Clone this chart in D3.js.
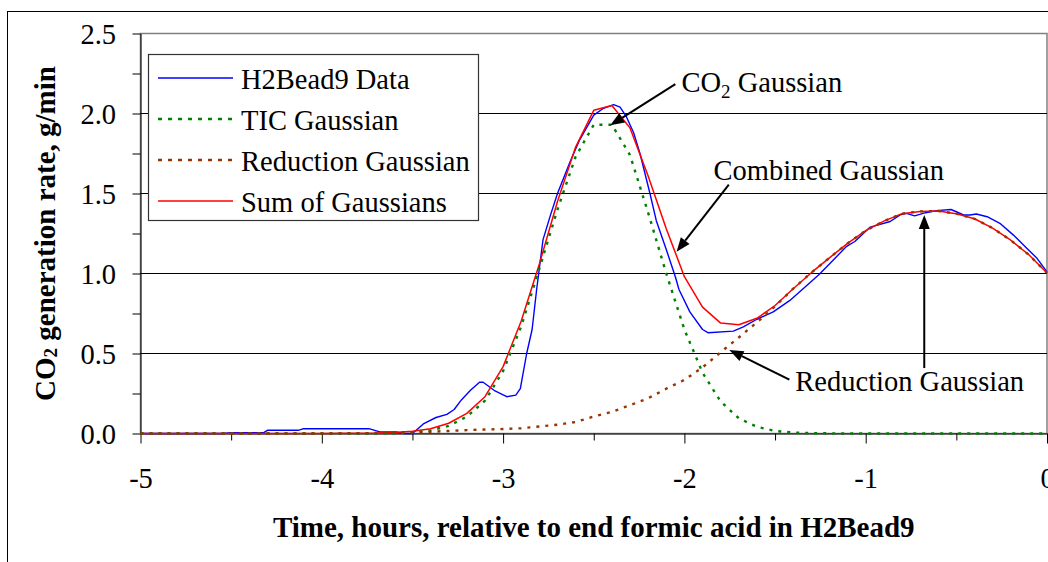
<!DOCTYPE html>
<html><head><meta charset="utf-8">
<script src="https://cdn.jsdelivr.net/npm/d3@7"></script>
<style>body{margin:0;background:#fff}svg{display:block}</style>
</head><body>
<svg id="chart" width="1048" height="562"></svg>
<script>
// ---------- DATA ----------
const gaussTime = [-5.0,-4.9,-4.8,-4.7,-4.6,-4.5,-4.4,-4.3,-4.2,-4.1,-4.0,-3.9,-3.8,-3.7,-3.6,-3.5,-3.4,-3.3,-3.2,-3.1,-3.0,-2.9,-2.8,-2.7,-2.6,-2.5,-2.4,-2.3,-2.2,-2.1,-2.0,-1.9,-1.8,-1.7,-1.6,-1.5,-1.4,-1.3,-1.2,-1.1,-1.0,-0.9,-0.8,-0.7,-0.6,-0.5,-0.4,-0.3,-0.2,-0.1,0.0];
const ticGaussian = [0,0,0,0,0,0,0,0,0,0,0,0,0,0,0.002,0.007,0.019,0.048,0.105,0.205,0.39,0.67,1.03,1.40,1.73,1.93,1.93,1.74,1.38,1.00,0.65,0.38,0.20,0.095,0.042,0.016,0.006,0.002,0.001,0,0,0,0,0,0,0,0,0,0,0,0];
const reductionGaussian = [0,0,0,0,0,0,0,0,0,0,0,0.001,0.002,0.003,0.005,0.007,0.011,0.016,0.021,0.025,0.028,0.033,0.044,0.055,0.072,0.106,0.135,0.177,0.22,0.28,0.335,0.413,0.508,0.60,0.695,0.795,0.905,1.005,1.098,1.188,1.268,1.327,1.374,1.388,1.391,1.374,1.342,1.284,1.208,1.117,1.003];
const sumGaussians = [0,0,0,0,0,0,0,0,0,0,0,0.001,0.002,0.003,0.007,0.014,0.03,0.064,0.126,0.23,0.418,0.703,1.06,1.45,1.79,2.02,2.05,1.91,1.61,1.28,0.98,0.79,0.69,0.68,0.72,0.80,0.905,1.005,1.098,1.188,1.268,1.327,1.374,1.388,1.391,1.374,1.342,1.284,1.208,1.117,1.003];
const dataTime = [-5.0,-4.55,-4.5,-4.32,-4.3,-4.13,-4.1,-3.74,-3.68,-3.59,-3.55,-3.5,-3.44,-3.37,-3.31,-3.27,-3.23,-3.18,-3.13,-3.11,-3.05,-2.98,-2.93,-2.905,-2.87,-2.84,-2.815,-2.78,-2.74,-2.70,-2.63,-2.58,-2.50,-2.45,-2.39,-2.355,-2.32,-2.28,-2.245,-2.19,-2.155,-2.10,-2.05,-2.03,-1.97,-1.90,-1.87,-1.73,-1.675,-1.60,-1.51,-1.42,-1.37,-1.26,-1.20,-1.105,-1.06,-0.975,-0.865,-0.81,-0.775,-0.73,-0.67,-0.61,-0.53,-0.50,-0.46,-0.425,-0.39,-0.33,-0.26,-0.185,-0.11,-0.055,0.0];
const dataRate = [0,0,0.005,0.005,0.02,0.02,0.03,0.03,0.01,0.01,0,0,0.06,0.10,0.12,0.15,0.21,0.27,0.32,0.32,0.27,0.23,0.24,0.28,0.50,0.65,0.90,1.21,1.36,1.50,1.70,1.83,1.99,2.03,2.055,2.04,1.98,1.88,1.75,1.50,1.33,1.15,0.98,0.90,0.76,0.65,0.63,0.64,0.667,0.714,0.76,0.83,0.88,0.99,1.06,1.17,1.20,1.29,1.325,1.366,1.376,1.36,1.38,1.393,1.40,1.386,1.366,1.366,1.372,1.355,1.314,1.24,1.157,1.095,1.01];

const xTickValues = [-5,-4,-3,-2,-1,0];
const xTickLabels = ["-5","-4","-3","-2","-1","0"];
const xMinorTicks = [-4.5,-3.5,-2.5,-1.5,-0.5];
const yTickValues = [0,0.5,1,1.5,2,2.5];
const yTickLabels = ["0.0","0.5","1.0","1.5","2.0","2.5"];
const yMinorTicks = [0.25,0.75,1.25,1.75,2.25];
const gridValues = [0.5,1,1.5,2];
const seriesNames = ["H2Bead9 Data","TIC Gaussian","Reduction Gaussian","Sum of Gaussians"];
const xTitle = "Time, hours, relative to end formic acid in H2Bead9";

// ---------- LAYOUT / STYLE ----------
const FONT = "'Liberation Serif','Times New Roman',serif";
const FS = 28.5;
const svg = d3.select("#chart");
const x = d3.scaleLinear().domain([-5,0]).range([140.5,1047]);
const y = d3.scaleLinear().domain([0,2.5]).range([433.5,33.5]);

const styles = [
  {color:"#0000ff", width:1.4, dash:null},
  {color:"#008000", width:2.4, dash:"3,6"},
  {color:"#993300", width:2.4, dash:"3,6"},
  {color:"#ff0000", width:1.5, dash:null}
];

// outer chart area border
svg.append("rect").attr("x",7.5).attr("y",11.5).attr("width",1200).attr("height",700)
  .attr("fill","#fff").attr("stroke","#000").attr("stroke-width",1);

// plot border
svg.append("rect").attr("x",x(-5)).attr("y",y(2.5)).attr("width",x(0)-x(-5)).attr("height",y(0)-y(2.5))
  .attr("fill","none").attr("stroke","#808080").attr("stroke-width",1.5);

// gridlines
svg.append("g").selectAll("line").data(gridValues).join("line")
  .attr("x1",x(-5)).attr("x2",x(0)).attr("y1",d=>y(d)).attr("y2",d=>y(d))
  .attr("stroke","#000").attr("stroke-width",1);

// axes
const yAxis = svg.append("g").attr("transform",`translate(${x(-5)},0)`)
  .call(d3.axisLeft(y).tickValues(yTickValues.concat(yMinorTicks)).tickSize(8).tickSizeOuter(0)
    .tickFormat(d => { const i = yTickValues.indexOf(d); return i>=0 ? yTickLabels[i] : ""; }));
yAxis.attr("font-family",FONT);
yAxis.selectAll("text").attr("x",-24.5).attr("dy","0.34em")
  .style("font-family",FONT).style("font-size",FS+"px").attr("fill","#000");

const xAxis = svg.append("g").attr("transform",`translate(0,${y(0)})`)
  .call(d3.axisBottom(x).tickValues(xTickValues).tickSize(10).tickSizeOuter(0)
    .tickFormat((d,i)=>xTickLabels[i]));
xAxis.attr("font-family",FONT);
xAxis.selectAll("text").attr("y",54.5).attr("dy",0)
  .style("font-family",FONT).style("font-size",FS+"px").attr("fill","#000");
svg.append("g").attr("transform",`translate(0,${y(0)})`)
  .call(d3.axisBottom(x).tickValues(xMinorTicks).tickSize(7).tickFormat(""))
  .select(".domain").remove();
svg.selectAll(".domain, .tick line").attr("stroke","#000").attr("stroke-width",1);

// series
const line = d3.line().x(d=>x(d[0])).y(d=>y(d[1]));
const seriesData = [
  d3.zip(dataTime, dataRate),
  d3.zip(gaussTime, ticGaussian),
  d3.zip(gaussTime, reductionGaussian),
  d3.zip(gaussTime, sumGaussians)
];
[0,3,1,2].forEach(i=>{
  svg.append("path").datum(seriesData[i]).attr("d",line)
    .attr("fill","none").attr("stroke",styles[i].color).attr("stroke-width",styles[i].width)
    .attr("stroke-dasharray",styles[i].dash).attr("stroke-linejoin","round");
});

// legend
const lg = svg.append("g");
lg.append("rect").attr("x",148.5).attr("y",54.5).attr("width",330).attr("height",166)
  .attr("fill","#fff").attr("stroke","#333").attr("stroke-width",1.2);
seriesNames.forEach((name,i)=>{
  const by = 89 + i*41;
  lg.append("line").attr("x1",158).attr("x2",233).attr("y1",by-11).attr("y2",by-11)
    .attr("stroke",styles[i].color).attr("stroke-width",styles[i].width)
    .attr("stroke-dasharray",styles[i].dash ? "4,6" : null);
  lg.append("text").attr("x",241).attr("y",by).text(name)
    .style("font-family",FONT).style("font-size",FS+"px");
});

// axis titles
const yt = svg.append("text").attr("transform",`translate(55,${(y(0)+y(2.5))/2}) rotate(-90)`)
  .attr("text-anchor","middle").style("font-family",FONT).style("font-size","29px").style("font-weight","bold");
yt.append("tspan").text("CO");
yt.append("tspan").text("2").style("font-size","19px").attr("dy",2);
yt.append("tspan").text(" generation rate, g/min").attr("dy",-2);

svg.append("text").attr("x",(x(-5)+x(0))/2).attr("y",537).attr("text-anchor","middle")
  .style("font-family",FONT).style("font-size","29px").style("font-weight","bold").text(xTitle);

// annotations (positions in data units)
const annotations = [
  {label:["CO","2"," Gaussian"], tx:-2.016, ty:2.137, from:[-2.05,2.183], to:[-2.409,1.926]},
  {label:["Combined Gaussian"], tx:-1.839, ty:1.584, from:[-1.755,1.556], to:[-2.043,1.136]},
  {label:["Reduction Gaussian"], tx:-1.388, ty:0.263, from:[-1.421,0.337], to:[-1.752,0.522]},
  {label:null, from:[-0.677,0.409], to:[-0.677,1.366]}
];
const ag = svg.append("g");
annotations.forEach(a=>{
  const x1=x(a.from[0]), y1=y(a.from[1]), x2=x(a.to[0]), y2=y(a.to[1]);
  const dx=x2-x1, dy=y2-y1, L=Math.hypot(dx,dy), ux=dx/L, uy=dy/L;
  const hl=14, hw=5.5;
  const bx=x2-ux*hl, by=y2-uy*hl;
  ag.append("line").attr("x1",x1).attr("y1",y1).attr("x2",bx).attr("y2",by)
    .attr("stroke","#000").attr("stroke-width",2);
  ag.append("path").attr("d",`M${x2},${y2}L${bx-uy*hw},${by+ux*hw}L${bx+uy*hw},${by-ux*hw}Z`).attr("fill","#000");
  if(a.label){
    const t = ag.append("text").attr("x",x(a.tx)).attr("y",y(a.ty))
      .style("font-family",FONT).style("font-size",FS+"px");
    if(a.label.length===3){
      t.append("tspan").text(a.label[0]);
      t.append("tspan").text(a.label[1]).style("font-size","19px").attr("dy",6);
      t.append("tspan").text(a.label[2]).attr("dy",-6);
    } else t.text(a.label[0]);
  }
});
</script>
</body></html>
